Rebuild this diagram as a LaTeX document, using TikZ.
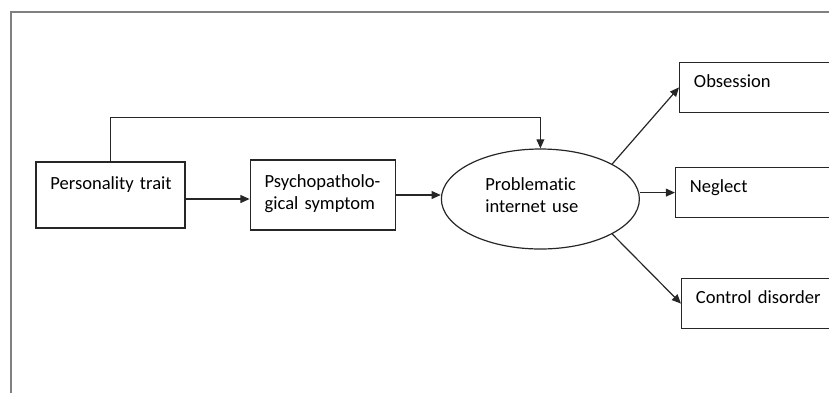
\documentclass[tikz,border=0pt]{standalone}
\usepackage{fontspec}
\setmainfont[Ligatures=NoCommon]{Carlito}
\usetikzlibrary{positioning, shapes.geometric, arrows.meta}

\begin{document}
\begin{tikzpicture}[
    node distance=1.6cm,
    box/.style={rectangle, draw=black!85, line width=0.85pt, inner ysep=0pt, inner xsep=0.36cm,
        align=left, font=\fontsize{13.2}{16}\selectfont},
    factor/.style={box, text height=0.675cm},
    outcome/.style={box, text width=3.5cm, text height=0.625cm, text depth=0.625cm},
    piu/.style={ellipse, draw=black!85, line width=0.85pt, minimum width=4.95cm, minimum height=2.5cm,
        inner sep=0pt, text width=2.75cm, align=left, text height=0.3cm, text depth=0.75cm,
        font=\fontsize{13.2}{16}\selectfont},
    link/.style={-{Triangle[length=6.5pt, width=5.6pt]}, line width=0.85pt, draw=black!85}
]

% Frame (cut off at right and bottom)
\path[use as bounding box, clip] (0,0) rectangle (20.725,-9.8);
\draw[gray, line width=1.4pt] (0.27,-0.3) rectangle (22,-11);

% Main path
\node[factor, text width=3.005cm, text depth=0.975cm] (pers) at (2.7625,-4.875) {\mbox{Personality trait}};
\node[factor, text width=2.905cm, text depth=1.075cm, right=of pers] (psych) {\mbox{Psychopatholo-}\\\mbox{gical symptom}};
\node[piu, right=1.125cm of psych, yshift=-0.1cm] (ell) {Problematic\\internet use};

% Outcomes
\node[outcome, above right=2.15cm and 0.975cm of ell.east] (obs) {Obsession};
\node[outcome, right=0.875cm of ell.east, yshift=0.16cm] (neg) {Neglect};
\node[outcome, below right=1.975cm and 1.025cm of ell.east] (ctrl) {Control disorder};

% Edges
\draw[link] (pers.north) -- ++(0,1.1) -| (ell.north);
\draw[link] ([yshift=-0.1cm]pers.east) -- ([yshift=-0.1cm]pers.east -| psych.west);
\draw[link] (psych) -- (psych -| ell.west);
\draw[link] (ell.26) -- (obs.west);
\draw[link] (ell.east |- neg) -- (neg);
\draw[link] (ell.-26) -- (ctrl.west);

\end{tikzpicture}
\end{document}
